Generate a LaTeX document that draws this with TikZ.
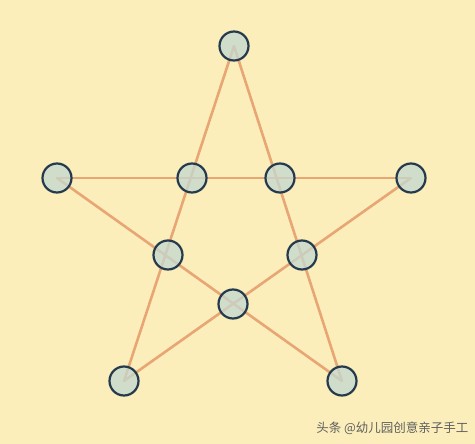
\documentclass[tikz,border=0pt]{standalone}
\usepackage{fontspec}
\newfontfamily\cjk{Noto Sans CJK SC}
\usetikzlibrary{calc}

\definecolor{bgyellow}{RGB}{251,238,186}
\definecolor{starline}{RGB}{232,166,116}
\definecolor{dotfill}{RGB}{196,216,210}
\definecolor{dotrim}{RGB}{38,58,78}
\definecolor{marktext}{RGB}{95,95,95}

\tikzset{
  dot/.style={circle, draw=dotrim, line width=2.2pt, fill=dotfill, fill opacity=0.75, draw opacity=1, minimum size=29pt, inner sep=0pt},
  starside/.style={starline, line width=2.6pt, line cap=round}
}

\begin{document}
\begin{tikzpicture}[x=1pt, y=-1pt]
\fill[bgyellow] (0,0) rectangle (475,444);
\useasboundingbox (0,0) rectangle (475,444);

% outer points
\coordinate (top) at (234,46);
\coordinate (lft) at (57,178);
\coordinate (rgt) at (411,178);
\coordinate (bl) at (124,381);
\coordinate (br) at (342,381);

\draw[starside] (top) -- (bl);
\draw[starside] (top) -- (br);
\draw[starside] (lft) -- (rgt);
\draw[starside] (lft) -- (br);
\draw[starside] (rgt) -- (bl);

% circles
\foreach \n/\x/\y in {ctop/234/46, clft/57/178, crgt/411/178, cbl/124/381, cbr/342/381,
  itl/192/178, itr/280/178, il/168/255, ir/302/255, ib/233/304}
\node[dot] (\n) at (\x,\y) {};

\node[anchor=east, text=marktext, font=\cjk\fontsize{12.5}{14}\selectfont] (mark) at (472,428) {头条 @幼儿园创意亲子手工};
\end{tikzpicture}
\end{document}
